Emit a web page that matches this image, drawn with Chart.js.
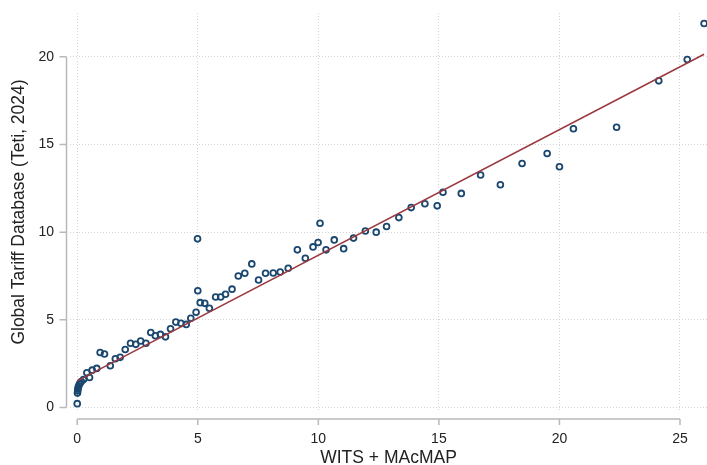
<!DOCTYPE html>
<html>
<head>
    <title>WITS vs Global Tariff Database</title>
    <script src="https://cdn.jsdelivr.net/npm/chart.js"></script>
    <style>
        body { margin: 0; background: #fff; }
        canvas { display: block; }
    </style>
</head>
<body>
    <canvas id="tariffChart" width="707" height="465"></canvas>
    <script>
        // values
        var witsX = [0, 0.01, 0.02, 0.03, 0.04, 0.06, 0.09, 0.12, 0.17, 0.26, 0.4, 0.51, 0.62, 0.81, 0.95, 1.13,
            1.37, 1.58, 1.78, 1.99, 2.21, 2.43, 2.63, 2.85, 3.05, 3.24, 3.45, 3.66, 3.87, 4.09, 4.3, 4.52,
            4.71, 4.93, 4.99, 5.0, 5.1, 5.29, 5.48, 5.74, 5.95, 6.15, 6.42, 6.68, 6.95, 7.24, 7.52, 7.81,
            8.13, 8.42, 8.75, 9.13, 9.46, 9.78, 9.99, 10.07, 10.32, 10.66, 11.05, 11.46, 11.95, 12.4, 12.83,
            13.34, 13.85, 14.42, 14.93, 15.17, 15.93, 16.73, 17.55, 18.45, 19.49, 20.0, 20.58, 22.37, 24.12,
            25.3, 26.0];
        var gtdY = [0.22, 0.82, 0.95, 1.05, 1.15, 1.22, 1.32, 1.4, 1.48, 1.6, 1.98, 1.71, 2.13, 2.23, 3.14, 3.05,
            2.38, 2.78, 2.86, 3.31, 3.66, 3.6, 3.79, 3.66, 4.28, 4.09, 4.17, 4.03, 4.49, 4.87, 4.8, 4.74,
            5.09, 5.43, 9.62, 6.66, 5.98, 5.94, 5.66, 6.3, 6.3, 6.46, 6.75, 7.5, 7.66, 8.19, 7.27, 7.66,
            7.67, 7.73, 7.94, 8.99, 8.51, 9.16, 9.41, 10.51, 8.99, 9.56, 9.06, 9.66, 10.07, 10.0, 10.32,
            10.83, 11.4, 11.62, 11.5, 12.28, 12.21, 13.26, 12.7, 13.92, 14.49, 13.73, 15.9, 15.98, 18.63,
            19.85, 21.9];
        // fitted line endpoints
        var fitX = [0, 26.0];
        var fitY = [1.52, 20.15];
        var xTicks = [0, 5, 10, 15, 20, 25];
        var yTicks = [0, 5, 10, 15, 20];

        var navy = '#1a476f';
        var maroon = '#9a3a40';
        var axisGray = '#b9b9b9';
        var gridGray = '#d4d4d4';
        var fontFam = '"Liberation Sans", Arial, sans-serif';

        var points = witsX.map(function(x, i) { return {x: x, y: gtdY[i]}; });
        var fitLine = fitX.map(function(x, i) { return {x: x, y: fitY[i]}; });

        // Stata-like axis lines, set off from the plot region and spanning only the tick range
        var offsetAxes = {
            id: 'offsetAxes',
            afterDraw: function(chart) {
                var ctx = chart.ctx;
                var xs = chart.scales.x, ys = chart.scales.y;
                var area = chart.chartArea;
                var axY = area.bottom + 8;
                var axX = area.left - 3.5;
                ctx.save();
                ctx.strokeStyle = axisGray;
                ctx.lineWidth = 1.5;
                ctx.beginPath();
                ctx.moveTo(xs.getPixelForValue(xTicks[0]), axY);
                ctx.lineTo(xs.getPixelForValue(xTicks[xTicks.length - 1]), axY);
                xTicks.forEach(function(v) {
                    var px = xs.getPixelForValue(v);
                    ctx.moveTo(px, axY);
                    ctx.lineTo(px, axY + 6);
                });
                ctx.moveTo(axX, ys.getPixelForValue(yTicks[0]));
                ctx.lineTo(axX, ys.getPixelForValue(yTicks[yTicks.length - 1]));
                yTicks.forEach(function(v) {
                    var py = ys.getPixelForValue(v);
                    ctx.moveTo(axX, py);
                    ctx.lineTo(axX - 7, py);
                });
                ctx.stroke();
                ctx.restore();
            }
        };

        // no extra room for half tick labels at the ends of the axes
        function noPad(s) {
            s.paddingTop = 0;
            s.paddingBottom = 0;
            s.paddingLeft = 0;
            s.paddingRight = 0;
        }

        var ctx = document.getElementById('tariffChart').getContext('2d');
        new Chart(ctx, {
            type: 'scatter',
            data: {
                datasets: [
                    {
                        type: 'line',
                        data: fitLine,
                        borderColor: maroon,
                        borderWidth: 1.6,
                        pointRadius: 0,
                        fill: false
                    },
                    {
                        data: points,
                        pointRadius: 2.9,
                        pointBorderWidth: 1.8,
                        pointBorderColor: navy,
                        pointBackgroundColor: 'rgba(0,0,0,0)',
                        clip: false
                    }
                ]
            },
            options: {
                responsive: false,
                animation: false,
                layout: { autoPadding: false, padding: { top: 13, left: 0, right: 0, bottom: 0 } },
                plugins: {
                    legend: { display: false },
                    tooltip: { enabled: false }
                },
                scales: {
                    x: {
                        type: 'linear',
                        min: -0.3,
                        max: 26.12,
                        afterBuildTicks: function(s) { s.ticks = xTicks.map(function(v) { return {value: v}; }); },
                        afterFit: function(s) { s.height = 54; noPad(s); },
                        border: { display: false, dash: [1, 2] },
                        grid: { color: gridGray, lineWidth: 1, drawTicks: false },
                        ticks: { color: '#222', font: { family: fontFam, size: 14 }, padding: 20, maxRotation: 0 },
                        title: {
                            display: true,
                            text: 'WITS + MAcMAP',
                            color: '#222',
                            font: { family: fontFam, size: 17.5, lineHeight: 0.8 },
                            padding: { top: 0, bottom: 0 }
                        }
                    },
                    y: {
                        type: 'linear',
                        min: -0.2,
                        max: 22.5,
                        afterBuildTicks: function(s) { s.ticks = yTicks.map(function(v) { return {value: v}; }); },
                        afterFit: function(s) { s.width = 70; noPad(s); },
                        border: { display: false, dash: [1, 2] },
                        grid: { color: gridGray, lineWidth: 1, drawTicks: false },
                        ticks: { color: '#222', font: { family: fontFam, size: 14 }, padding: 16 },
                        title: {
                            display: true,
                            text: 'Global Tariff Database (Teti, 2024)',
                            color: '#222',
                            font: { family: fontFam, size: 17.5, lineHeight: 1.2 },
                            padding: { top: 9, bottom: 0 }
                        }
                    }
                }
            },
            plugins: [offsetAxes]
        });
    </script>
</body>
</html>
